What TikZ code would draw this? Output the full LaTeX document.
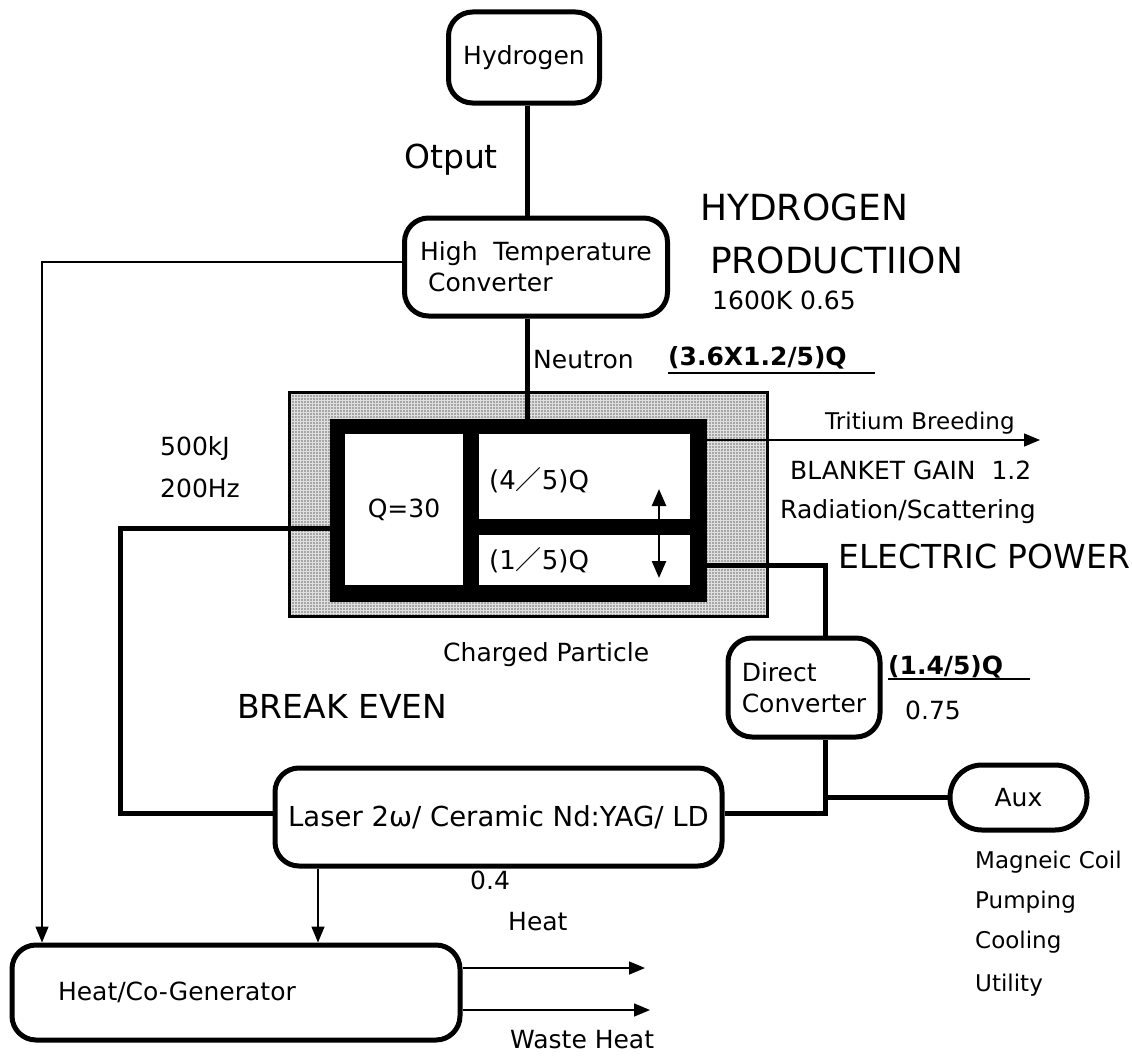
\documentclass[tikz,border=0pt]{standalone}
\usepackage{fontspec}
\setmainfont{DejaVu Sans}
\newfontfamily\cjkf{Noto Sans CJK JP}
\usetikzlibrary{arrows.meta,patterns}
\begin{document}
\begin{tikzpicture}[x=1pt,y=-1pt,
  every node/.style={font=\fontsize{25}{31}\selectfont},
  small/.style={font=\fontsize{23}{29}\selectfont},
  big/.style={font=\fontsize{33}{40}\selectfont},
  bigger/.style={font=\fontsize{36}{42}\selectfont},
  bold/.style={font=\fontsize{25}{31}\selectfont\bfseries},
  rbox/.style={draw,line width=5pt,rounded corners=24pt,inner sep=0pt},
  thick line/.style={line width=5pt},
  thin arrow/.style={line width=1.5pt,-{Triangle[length=16pt,width=13pt]}},
  lbl/.style={anchor=west,inner sep=0pt}]
\useasboundingbox (0,0) rectangle (1132,1057);
% boxes
\node[rbox,minimum width=151,minimum height=91] (hyd) at (524,57.5) {Hydrogen};
\node[rbox,minimum width=263,minimum height=98,align=left] (ht) at (536,267) {High\ \ Temperature\\\ Converter};
\node[fill=gray!70,minimum width=477,minimum height=223,inner sep=0pt] (blanket) at (528.5,504.5) {};
\fill[pattern=grid,pattern color=gray!25] (blanket.north west) rectangle (blanket.south east);
\draw[line width=3pt] (blanket.north west) rectangle (blanket.south east);
\node[fill=black,minimum width=377,minimum height=183,inner sep=0pt] (core) at (518.5,510.5) {};
\node[fill=white,minimum width=118,minimum height=151,inner sep=0pt] (q30) at (404,509.5) {Q=30};
\node[fill=white,minimum width=211,minimum height=85,inner sep=0pt] (up) at (584.5,476.5) {};
\node[fill=white,minimum width=211,minimum height=50,inner sep=0pt] (lo) at (584.5,560) {};
\node[lbl,font=\fontsize{26}{31}\selectfont] (upt) at (489,480) {(4{\cjkf ／}5)Q};
\node[lbl,font=\fontsize{26}{31}\selectfont] (lot) at (489,560) {(1{\cjkf ／}5)Q};
\coordinate (da) at (659,489);
\coordinate (db) at (659,578);
\draw[line width=2.5pt,{Triangle[length=17pt,width=14pt]}-{Triangle[length=17pt,width=14pt]}] (da) -- (db);
\node[rbox,minimum width=152,minimum height=99,align=left] (dc) at (804,687.5) {Direct\\Converter};
\node[rbox,minimum width=447,minimum height=98,font=\fontsize{27.5}{33}\selectfont] (laser) at (498.5,817) {Laser 2ω/ Ceramic Nd:YAG/ LD};
\node[rbox,minimum width=137,minimum height=65,rounded corners=32pt] (aux) at (1018.5,797.5) {Aux};
\node[rbox,minimum width=448,minimum height=95,text width=356,align=left] (heat) at (236,992.5) {Heat/Co-Generator};
% thick connectors
\coordinate (vx) at (527,0);
\draw[thick line] (hyd.south -| vx) -- (ht.north -| vx);
\draw[thick line] (ht.south -| vx) -- (core.north -| vx);
\coordinate (lx) at (120,528);
\draw[thick line] (core.west |- lx) -- (lx) |- (laser.west |- 0,813);
\coordinate (rx) at (825,565);
\draw[thick line] (core.east |- rx) -- (rx) -- (dc.north -| rx);
\coordinate (jx) at (825,813);
\draw[thick line] (laser.east |- jx) -- (jx) -- (dc.south -| jx);
\draw[thick line] (jx |- aux.west) -- (aux.west);
% thin arrows
\coordinate (tb) at (1040,440);
\draw[thin arrow] (core.east |- tb) -- (tb);
\coordinate (hx) at (42,262);
\draw[thin arrow] (ht.west |- hx) -- (hx) -- (heat.north -| hx);
\coordinate (lz) at (318,0);
\draw[thin arrow] (laser.south -| lz) -- (heat.north -| lz);
\coordinate (h1) at (645,968);
\coordinate (h2) at (650,1010);
\draw[thin arrow] (heat.east |- h1) -- (h1);
\draw[thin arrow] (heat.east |- h2) -- (h2);
% labels
\node[big] (otput) at (451,160) {Otput};
\node[bigger,lbl] (hp1) at (700,207) {HYDROGEN};
\node[bigger,lbl] (hp2) at (710,260) {PRODUCTIION};
\node[lbl] (k1600) at (712,300) {1600K 0.65};
\node[lbl] (neut) at (533,360) {Neutron};
\node[bold,lbl] (nq) at (668,358) {(3.6X1.2/5)Q};
\draw[line width=1.2pt] (668,373) -- (875,373);
\node[lbl] (kj) at (160,448) {500kJ};
\node[lbl] (hz) at (160,488) {200Hz};
\node[small,lbl] (trit) at (825,423) {Tritium Breeding};
\node[lbl] (gain) at (790,470) {BLANKET GAIN\ \ 1.2};
\node[lbl] (rad) at (780,512) {Radiation/Scattering};
\node[big,lbl] (ep) at (838,556) {ELECTRIC POWER};
\node[lbl] (cp) at (443,655) {Charged Particle};
\node[big,lbl] (be) at (237,706) {BREAK EVEN};
\node[bold,lbl] (dq) at (888,667) {(1.4/5)Q};
\draw[line width=1.2pt] (888,679) -- (1030,679);
\node[lbl] (e75) at (905,710) {0.75};
\node[small,lbl] (m1) at (975,862) {Magneic Coil};
\node[small,lbl] (m2) at (975,902) {Pumping};
\node[small,lbl] (m3) at (975,942) {Cooling};
\node[small,lbl] (m4) at (975,985) {Utility};
\node[lbl] (z4) at (470,880) {0.4};
\node[lbl] (ht2) at (508,922) {Heat};
\node[lbl] (wh) at (510,1040) {Waste Heat};
\end{tikzpicture}
\end{document}
